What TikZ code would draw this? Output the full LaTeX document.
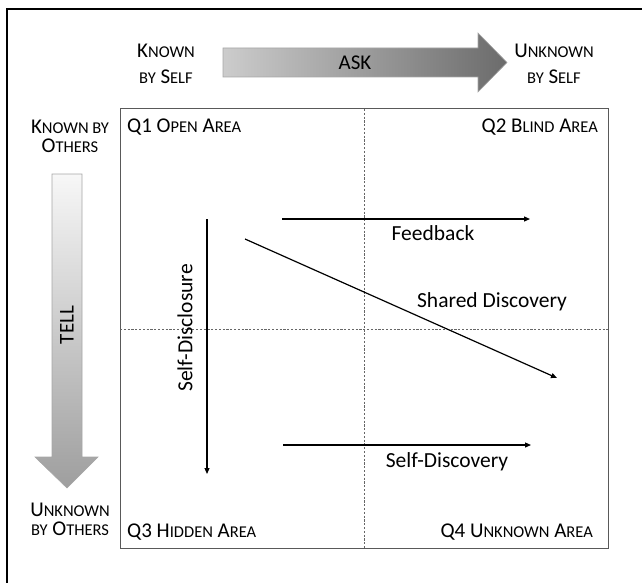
\documentclass[tikz,border=0pt]{standalone}
\usepackage{fontspec}
\setmainfont{Carlito}
\usetikzlibrary{arrows.meta}
\tikzset{
  big arrow/.style={draw=black!35, line width=0.6pt},
  axis label/.style={font=\fontsize{21}{26}\selectfont, align=center, inner sep=0pt},
  side label/.style={font=\fontsize{21}{19}\selectfont, align=center, inner sep=0pt},
  quad label/.style={font=\fontsize{21}{21}\selectfont, inner sep=0pt},
  flow arrow/.style={line width=1.2pt, -{Triangle[length=6pt,width=5pt]}},
  flow label/.style={font=\fontsize{21.5}{21.5}\selectfont, inner sep=0pt},
  mid line/.style={black!60, line width=0.7pt, dash pattern=on 2.2pt off 1.6pt},
}
\newcommand{\smc}[1]{{\fontsize{16.5}{16.5}\selectfont #1}}

\begin{document}
\begin{tikzpicture}[x=1pt,y=-1pt]
            \clip (0,0) rectangle (642,583);
            % Frame
            \draw[line width=2.5pt] (7,9) rectangle (700,650);

            % Grid
            \draw[black!65, line width=1pt] (120,109) rectangle (608,548);
            \draw[mid line] (364,109) -- (364,548);
            \draw[mid line] (120,329) -- (608,329);

            % Big arrows
            \shadedraw[big arrow, left color=black!20, right color=black!58]
                (223,48) -- (478,48) -- (478,33) -- (507,62.5) -- (478,92) -- (478,77) -- (223,77) -- cycle;
            \shadedraw[big arrow, top color=black!3, bottom color=black!38]
                (52,174) -- (82,174) -- (82,457) -- (98,457) -- (67,488) -- (35,457) -- (52,457) -- cycle;
            \node[quad label] (ask) at (355,63) {ASK};
            \node[quad label, rotate=90] (tell) at (67,325) {TELL};

            % Axis labels
            \node[axis label] (kself) at (166,64) {K\smc{NOWN}\\\smc{BY} S\smc{ELF}};
            \node[axis label] (uself) at (554,64) {U\smc{NKNOWN}\\\smc{BY} S\smc{ELF}};
            \node[side label] (kother) at (70,136) {K\smc{NOWN BY}\\O\smc{THERS}};
            \node[side label] (uother) at (70,519) {U\smc{NKNOWN}\\\smc{BY} O\smc{THERS}};

            % Quadrants
            \node[quad label, anchor=west] (q1) at (127,127) {Q1 O\smc{PEN} A\smc{REA}};
            \node[quad label, anchor=east] (q2) at (598,127) {Q2 B\smc{LIND} A\smc{REA}};
            \node[quad label, anchor=west] (q3) at (127,532) {Q3 H\smc{IDDEN} A\smc{REA}};
            \node[quad label, anchor=east] (q4) at (593,532) {Q4 U\smc{NKNOWN} A\smc{REA}};

            % Flows
            \coordinate (fb-a) at (282,219);
            \coordinate (fb-b) at (530,219);
            \coordinate (sd-a) at (207,219);
            \coordinate (sd-b) at (207,474);
            \coordinate (sh-a) at (245,239);
            \coordinate (sh-b) at (557,378);
            \coordinate (sf-a) at (283,445);
            \coordinate (sf-b) at (531,445);
            \draw[flow arrow] (fb-a) -- (fb-b);
            \draw[flow arrow] (sd-a) -- (sd-b);
            \draw[flow arrow] (sh-a) -- (sh-b);
            \draw[flow arrow] (sf-a) -- (sf-b);
            \node[flow label] (feedback) at (433,233) {Feedback};
            \node[flow label, rotate=90] (disclosure) at (185,328) {Self-Disclosure};
            \node[flow label] (shared) at (492,302) {Shared Discovery};
            \node[flow label] (discovery) at (447,462) {Self-Discovery};
\end{tikzpicture}
\end{document}
